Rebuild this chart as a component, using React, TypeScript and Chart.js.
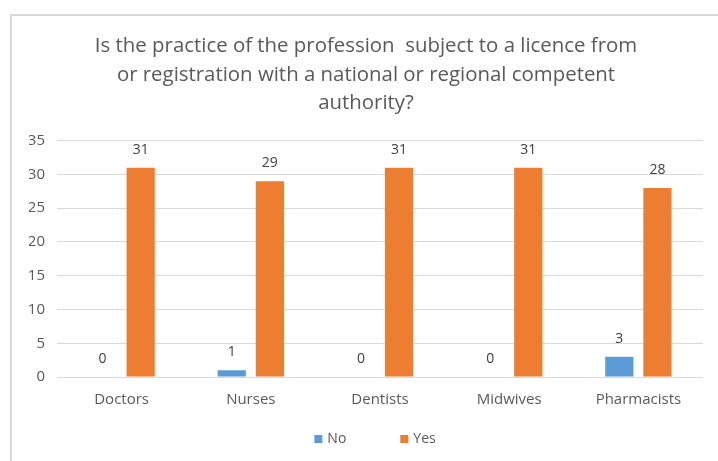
import React, { useEffect, useRef } from "react";
import { Chart, registerables } from "chart.js";

Chart.register(...registerables);

const categories = ["Doctors", "Nurses", "Dentists", "Midwives", "Pharmacists"];
const noValues = [0, 1, 0, 0, 3];
const yesValues = [31, 29, 31, 31, 28];
const seriesNames = ["No", "Yes"];
const seriesColors = ["#5B9BD5", "#ED7D31"];
const titleLines = [
  "Is the practice of the profession  subject to a licence from",
  "or registration with a national or regional competent",
  "authority?",
];
const yMax = 35;
const yStep = 5;

const FONT = "'Open Sans', sans-serif";

const dataLabelPlugin = {
  id: "dataLabels",
  afterDatasetsDraw(chart: any) {
    const ctx = chart.ctx;
    ctx.save();
    ctx.font = `14px ${FONT}`;
    ctx.fillStyle = "#404040";
    ctx.textAlign = "center";
    ctx.textBaseline = "middle";
    chart.data.datasets.forEach((ds: any, i: number) => {
      const meta = chart.getDatasetMeta(i);
      meta.data.forEach((el: any, j: number) => {
        ctx.fillText(String(ds.data[j]), el.x, el.y - 18);
      });
    });
    ctx.restore();
  },
};

const legendPlugin = {
  id: "customLegend",
  afterDraw(chart: any) {
    const ctx = chart.ctx;
    ctx.save();
    ctx.font = `14px ${FONT}`;
    ctx.textBaseline = "middle";
    const box = 8;
    const gapText = 5;
    const gapItem = 54;
    const items = chart.data.datasets.map((ds: any) => ({
      text: ds.label,
      color: ds.backgroundColor,
      w: box + gapText + ctx.measureText(ds.label).width,
    }));
    const total = items.reduce((s: number, it: any) => s + it.w, 0) + gapItem * (items.length - 1);
    const cx = (chart.chartArea.left + chart.chartArea.right) / 2 - 5;
    let x = cx - total / 2;
    const y = chart.height - 22;
    items.forEach((it: any) => {
      ctx.fillStyle = it.color;
      ctx.fillRect(x, y - box / 2, box, box);
      ctx.fillStyle = "#595959";
      ctx.textAlign = "left";
      ctx.fillText(it.text, x + box + gapText, y);
      x += it.w + gapItem;
    });
    ctx.restore();
  },
};

export default function App() {
  const ref = useRef<HTMLCanvasElement>(null);
  useEffect(() => {
    if (!ref.current) return;
    const chart = new Chart(ref.current, {
      type: "bar",
      data: {
        labels: categories,
        datasets: [
          {
            label: seriesNames[0],
            data: noValues,
            backgroundColor: seriesColors[0],
            categoryPercentage: 0.59,
            barPercentage: 0.74,
          },
          {
            label: seriesNames[1],
            data: yesValues,
            backgroundColor: seriesColors[1],
            categoryPercentage: 0.59,
            barPercentage: 0.74,
          },
        ],
      },
      options: {
        animation: false,
        responsive: false,
        devicePixelRatio: 1,
        layout: { padding: { left: 29, right: 15, top: 32, bottom: 38 } },
        plugins: {
          legend: { display: false },
          tooltip: { enabled: false },
          title: {
            display: true,
            text: titleLines,
            color: "#595959",
            font: { family: FONT, size: 20.4, weight: "normal", lineHeight: 1.4 },
            padding: { top: 0, bottom: 23 },
          },
        },
        scales: {
          x: {
            grid: { display: false, drawTicks: false },
            border: { display: false },
            ticks: { color: "#595959", font: { family: FONT, size: 15 }, padding: 14 },
          },
          y: {
            min: 0,
            max: yMax,
            ticks: { stepSize: yStep, color: "#595959", font: { family: FONT, size: 15 }, padding: 12 },
            grid: { color: "#d9d9d9", drawTicks: false, lineWidth: 1 },
            border: { display: false },
            afterFit: (scale: any) => {
              scale.width = 28;
            },
          },
        },
      },
      plugins: [dataLabelPlugin, legendPlugin],
    });
    return () => chart.destroy();
  }, []);
  return (
    <>
      <div
        style={{
          position: "fixed",
          left: 10,
          top: 14,
          width: 2000,
          height: 2000,
          borderLeft: "2px solid #d9d9d9",
          borderTop: "2px solid #d9d9d9",
          background: "#fff",
        }}
      />
      <canvas
        ref={ref}
        width={718}
        height={461}
        style={{ position: "fixed", left: 0, top: 0, width: 718, height: 461 }}
      />
    </>
  );
}
